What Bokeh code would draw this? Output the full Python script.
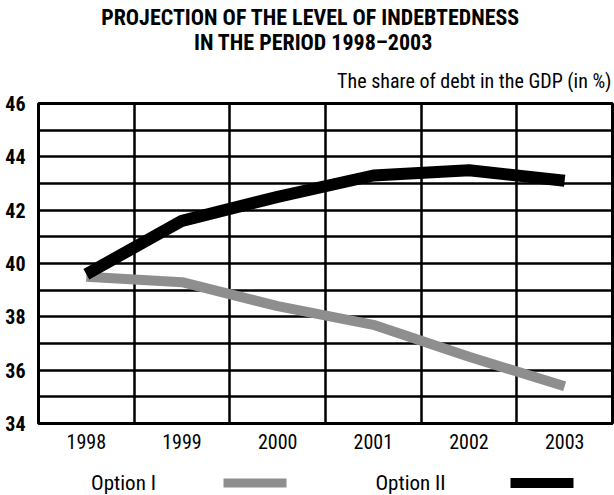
from bokeh.plotting import figure
from bokeh.layouts import column
from bokeh.models import Range1d, FixedTicker, Grid, Label
from bokeh.embed import file_html
from bokeh.resources import INLINE

# ---- data ----
years = ["1998", "1999", "2000", "2001", "2002", "2003"]
option_1 = [39.5, 39.3, 38.4, 37.7, 36.5, 35.4]
option_2 = [39.6, 41.6, 42.5, 43.3, 43.5, 43.1]
y_ticks = [34, 36, 38, 40, 42, 44, 46]
y_grid = [34, 35, 36, 37, 38, 39, 40, 41, 42, 43, 44, 45, 46]
title_lines = ["PROJECTION OF THE LEVEL OF INDEBTEDNESS", "IN THE PERIOD 1998\u20132003"]
subtitle = "The share of debt in the GDP (in %)"
series_names = ["Option I", "Option II"]
series_colors = ["#8e8e8e", "black"]
series_widths = [10, 12]

FONT = "Roboto Condensed"
W = 614
FRAME_L, FRAME_R = 38, 612   # shared frame (column aligns frames)
TOP_H = 92
MAIN_H = 368
LEG_H = 35


def bare(fig):
    fig.xaxis.visible = False
    fig.yaxis.visible = False
    fig.xgrid.visible = False
    fig.ygrid.visible = False
    fig.outline_line_color = None
    fig.background_fill_color = "white"
    fig.border_fill_color = "white"


def panel(h):
    f = figure(width=W, height=h, output_backend="svg", toolbar_location=None,
               x_range=Range1d(FRAME_L, FRAME_R), y_range=Range1d(h, 0),
               min_border_left=FRAME_L, min_border_right=W - FRAME_R,
               min_border_top=0, min_border_bottom=0)
    bare(f)
    return f


# ---- title panel (data units = canvas pixels) ----
top = panel(TOP_H)
top.add_layout(Label(x=310, y=16.5, text=title_lines[0], text_align="center",
                     text_baseline="middle", text_font=FONT, text_font_style="bold",
                     text_font_size="22px", text_color="black"))
top.add_layout(Label(x=313, y=41.5, text=title_lines[1], text_align="center",
                     text_baseline="middle", text_font=FONT, text_font_style="bold",
                     text_font_size="22px", text_color="black"))
top.add_layout(Label(x=611, y=80, text=subtitle, text_align="right",
                     text_baseline="middle", text_font=FONT,
                     text_font_size="20px", text_color="black"))

# ---- main chart ----
xpos = [i + 0.5 for i in range(len(years))]
p = figure(width=W, height=MAIN_H, output_backend="svg", toolbar_location=None,
           x_range=Range1d(0, len(years)), y_range=Range1d(34, 46),
           min_border_left=FRAME_L, min_border_right=W - FRAME_R,
           min_border_top=103 - TOP_H, min_border_bottom=MAIN_H - (423 - TOP_H))
p.background_fill_color = "white"
p.border_fill_color = "white"
p.outline_line_color = "black"
p.outline_line_width = 3
p.xgrid.visible = False
p.ygrid.visible = False
p.add_layout(Grid(dimension=1, ticker=FixedTicker(ticks=y_grid),
                  grid_line_color="black", grid_line_width=2.5))
p.add_layout(Grid(dimension=0, ticker=FixedTicker(ticks=list(range(1, len(years)))),
                  grid_line_color="black", grid_line_width=2.5))
p.xaxis.ticker = FixedTicker(ticks=xpos)
p.xaxis.major_label_overrides = {x: y for x, y in zip(xpos, years)}
p.yaxis.ticker = FixedTicker(ticks=y_ticks)
for ax in (p.xaxis[0], p.yaxis[0]):
    ax.axis_line_color = None
    ax.major_tick_line_color = None
    ax.minor_tick_line_color = None
    ax.major_label_text_font = FONT
    ax.major_label_text_color = "black"
p.xaxis.major_label_text_font_size = "20px"
p.xaxis.major_label_standoff = 4
p.yaxis.major_label_text_font_size = "20px"
p.yaxis.major_label_text_font_style = "bold"
p.yaxis.major_label_standoff = 7

for vals, c, w in zip((option_1, option_2), series_colors, series_widths):
    p.line(xpos, vals, line_color=c, line_width=w)

# ---- legend panel (data units = canvas pixels, y from panel top) ----
leg = panel(LEG_H)
text_x = [123, 410]
swatch_x = [(223, 286), (510, 573)]
swatch_h = [9, 10]
for name, c, tx, (x0, x1), h in zip(series_names, series_colors, text_x, swatch_x, swatch_h):
    leg.add_layout(Label(x=tx, y=22.5, text=name, text_align="center", text_baseline="middle",
                         text_font=FONT, text_font_size="21px", text_color="black"))
    leg.hbar(y=[22.5], left=[x0], right=[x1], height=h, fill_color=c, line_color=None)

layout = column(top, p, leg, spacing=0)
open("out.html", "w").write(file_html(layout, INLINE))
